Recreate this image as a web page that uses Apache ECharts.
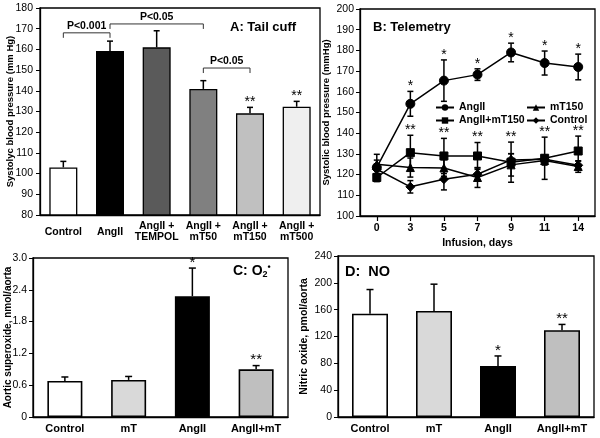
<!DOCTYPE html>
<html><head><meta charset="utf-8">
<script src="https://cdn.jsdelivr.net/npm/echarts@6/dist/echarts.min.js"></script>
<style>html,body{margin:0;padding:0;background:#fff}#c{width:600px;height:438px}</style>
</head><body><div id="c"></div>
<script>
// ---------- Panel A: Tail cuff ----------
const catsA = ['Control','AngII','AngII +\nTEMPOL','AngII +\nmT50','AngII +\nmT150','AngII +\nmT500'];
const valsA = [103,159.2,161,140.9,129.1,132.3];
const errA = [2.9,4.8,8,4,2.9,2.6];
const colorsA = ['#ffffff','#000000','#5a5a5a','#808080','#c0c0c0','#efefef'];
const starsA = ['','','','','**','**'];
const bracketFromA = [0,1,3];
const bracketToA = [1,3,4];
const bracketYA = [168,172.3,151];
const bracketTextA = ['P<0.001','P<0.05','P<0.05'];

// ---------- Panel B: Telemetry ----------
const daysB = ['0','3','5','7','9','11','14'];
const angII = [123.5,154.2,165.4,168.3,179,173.9,172];
const angIIErr = [6.3,6,10,2.8,4.5,5.8,6.2];
const angIImT = [118.6,130.6,129,129,126,127.9,131.4];
const angIImTErr = [2,8.4,8.5,6.5,9.7,10.2,7.2];
const mT150 = [125,123.4,123.2,118.6,124.7,126.8,123.9];
const mT150Err = [2,4.6,4,4.8,5.4,2.2,2.8];
const control = [122.6,114.1,117.8,120.2,127.1,127.4,124.5];
const controlErr = [2.5,3,5.2,3,3,2,2];
const starsAngII = ['','*','*','*','*','*','*'];
const starsAngIImT = ['','**','**','**','**','**','**'];

// ---------- Panels C & D ----------
const catsCD = ['Control','mT','AngII','AngII+mT'];
const colorsCD = ['#ffffff','#d9d9d9','#000000','#bfbfbf'];
const valsC = [0.68,0.70,2.28,0.90];
const errC = [0.075,0.065,0.53,0.07];
const starsC = ['','','*','**'];
const valsD = [154,158,76,129.5];
const errD = [36,40,15,8.5];
const starsD = ['','','*','**'];

const FF = "'Liberation Sans', Arial, sans-serif";

function barData(vals, colors, bw){
  return vals.map((v,i)=>({value:v, itemStyle:{color:colors[i], borderColor:'#000', borderWidth:bw}}));
}
function errSeries(gi, vals, errs, capW, both){
  return {
    type:'custom', xAxisIndex:gi, yAxisIndex:gi, z:5, silent:true,
    data: vals.map((v,i)=>[i, v, errs[i]]),
    encode:{x:0, y:1},
    renderItem:function(params, api){
      const i = api.value(0), v = api.value(1), e = api.value(2);
      const top = api.coord([i, v+e]);
      const bot = api.coord([i, both ? v-e : v]);
      const st = {stroke:'#000', lineWidth:1.5};
      const ch = [
        {type:'line', shape:{x1:top[0],y1:bot[1],x2:top[0],y2:top[1]}, style:st},
        {type:'line', shape:{x1:top[0]-capW/2,y1:top[1],x2:top[0]+capW/2,y2:top[1]}, style:st}
      ];
      if (both) ch.push({type:'line', shape:{x1:bot[0]-capW/2,y1:bot[1],x2:bot[0]+capW/2,y2:bot[1]}, style:st});
      return {type:'group', children:ch};
    }
  };
}
function starSeries(gi, vals, errs, stars, fs, dy){
  return {
    type:'custom', xAxisIndex:gi, yAxisIndex:gi, z:6, silent:true,
    data: vals.map((v,i)=>[i, v+errs[i]]),
    encode:{x:0, y:1},
    renderItem:function(params, api){
      const p = api.coord([api.value(0), api.value(1)]);
      return {type:'text', x:p[0], y:p[1]+dy,
        style:{text:stars[params.dataIndex], fontSize:fs, fontFamily:FF, fill:'#000', align:'center', verticalAlign:'bottom'}};
    }
  };
}
function bracketSeries(){
  return {
    type:'custom', xAxisIndex:0, yAxisIndex:0, z:6, silent:true,
    data: bracketYA.map((y,i)=>[bracketFromA[i], y, bracketToA[i]]),
    encode:{x:0, y:1},
    renderItem:function(params, api){
      const a = api.coord([api.value(0), api.value(1)]);
      const b = api.coord([api.value(2), api.value(1)]);
      return {type:'group', children:[
        {type:'polyline', shape:{points:[[a[0],a[1]+5],[a[0],a[1]],[b[0],b[1]],[b[0],b[1]+5]]}, style:{stroke:'#333', lineWidth:1, fill:null}},
        {type:'text', x:(a[0]+b[0])/2, y:a[1]-1, style:{text:bracketTextA[params.dataIndex], fontSize:10.5, fontWeight:'bold', fontFamily:FF, fill:'#000', align:'center', verticalAlign:'bottom'}}
      ]};
    }
  };
}

const axLine = {show:true, lineStyle:{color:'#000', width:1.3}};
const tickLbl = {color:'#000', fontSize:10.5, fontFamily:FF};
const catLbl = {color:'#000', fontSize:10.5, fontWeight:'bold', fontFamily:FF};
const nameStyle = {color:'#000', fontSize:10.5, fontWeight:'bold', fontFamily:FF};
const nameStyleSm = {color:'#000', fontSize:9.5, fontWeight:'bold', fontFamily:FF};
const gridBox = {show:true, borderColor:'#000', borderWidth:1.3, backgroundColor:'transparent'};
const legText = {fontSize:10.5, fontWeight:'bold', fontFamily:FF, color:'#000'};

const lineBase = (name, data, symbol, size) => ({
  name, type:'line', xAxisIndex:1, yAxisIndex:1, data, symbol, symbolSize:size,
  lineStyle:{color:'#000', width:1.5}, itemStyle:{color:'#000', borderColor:'#000'}, z:4
});

const option = {
  animation:false,
  backgroundColor:'#fff',
  title:[
    {text:'A: Tail cuff', left:230, top:21, padding:0, textStyle:{fontSize:13, fontWeight:'bold', fontFamily:FF, color:'#000'}},
    {text:'B: Telemetry', left:373, top:21, padding:0, textStyle:{fontSize:13, fontWeight:'bold', fontFamily:FF, color:'#000'}},
    {text:'{a|C: O}{b|2}{c|•}', left:233, top:263, padding:0, textStyle:{rich:{
      a:{fontSize:14, fontWeight:'bold', fontFamily:FF, color:'#000'},
      b:{fontSize:9, fontWeight:'bold', fontFamily:FF, color:'#000', padding:[7,0,0,0]},
      c:{fontSize:9, fontWeight:'bold', fontFamily:FF, color:'#000', padding:[0,0,8,0]}}}},
    {text:'D:  NO', left:345, top:264, padding:0, textStyle:{fontSize:14.5, fontWeight:'bold', fontFamily:FF, color:'#000'}}
  ],
  legend:[
    {left:435, top:102, padding:0, orient:'vertical', itemGap:2, itemWidth:18, itemHeight:8, data:['AngII','AngII+mT150'], textStyle:legText},
    {left:526, top:102, padding:0, orient:'vertical', itemGap:2, itemWidth:18, itemHeight:8, data:['mT150','Control'], textStyle:legText}
  ],
  grid:[
    Object.assign({left:40, top:8, width:280, height:207}, gridBox),
    Object.assign({left:360, top:9, width:235, height:207}, gridBox),
    Object.assign({left:33, top:258, width:255, height:159}, gridBox),
    Object.assign({left:338, top:256, width:256, height:161}, gridBox)
  ],
  xAxis:[
    {type:'category', gridIndex:0, data:catsA, axisLine:axLine, axisTick:{show:false},
     axisLabel:Object.assign({margin:17, verticalAlign:'middle', lineHeight:11, interval:0}, catLbl)},
    {type:'category', gridIndex:1, data:daysB, axisLine:axLine,
     axisTick:{show:true, alignWithLabel:true, length:5, lineStyle:{color:'#000', width:1.2}},
     axisLabel:Object.assign({margin:7}, catLbl),
     name:'Infusion, days', nameLocation:'middle', nameGap:22, nameMoveOverlap:false, nameTextStyle:nameStyle},
    {type:'category', gridIndex:2, data:catsCD, axisLine:axLine, axisTick:{show:false},
     axisLabel:Object.assign({margin:6, interval:0}, catLbl, {fontSize:11})},
    {type:'category', gridIndex:3, data:catsCD, axisLine:axLine, axisTick:{show:false},
     axisLabel:Object.assign({margin:6, interval:0}, catLbl, {fontSize:11})}
  ],
  yAxis:[
    {type:'value', gridIndex:0, min:80, max:180, interval:10, axisLine:axLine,
     axisTick:{show:true, length:4, lineStyle:{color:'#000'}}, splitLine:{show:false},
     axisLabel:Object.assign({margin:7}, tickLbl),
     name:'Systolyc blood pressure (mm Hg)', nameLocation:'middle', nameGap:25, nameMoveOverlap:false, nameTextStyle:nameStyleSm},
    {type:'value', gridIndex:1, min:100, max:200, interval:10, axisLine:axLine,
     axisTick:{show:true, length:4, lineStyle:{color:'#000'}}, splitLine:{show:false},
     axisLabel:Object.assign({margin:6}, tickLbl),
     name:'Systolic blood pressure (mmHg)', nameLocation:'middle', nameGap:29, nameMoveOverlap:false, nameTextStyle:nameStyleSm},
    {type:'value', gridIndex:2, min:0, max:3.0, interval:0.6, axisLine:axLine,
     axisTick:{show:true, length:4, lineStyle:{color:'#000'}}, splitLine:{show:false},
     axisLabel:Object.assign({margin:6, formatter:v=> v===0 ? '0' : v.toFixed(1)}, tickLbl),
     name:'Aortic superoxide, nmol/aorta', nameLocation:'middle', nameGap:20, nameMoveOverlap:false, nameTextStyle:Object.assign({}, nameStyle, {fontSize:10})},
    {type:'value', gridIndex:3, min:0, max:240, interval:40, axisLine:axLine,
     axisTick:{show:true, length:4, lineStyle:{color:'#000'}}, splitLine:{show:false},
     axisLabel:Object.assign({margin:6}, tickLbl),
     name:'Nitric oxide, pmol/aorta', nameLocation:'middle', nameGap:28, nameMoveOverlap:false, nameTextStyle:nameStyle}
  ],
  series:[
    {type:'bar', xAxisIndex:0, yAxisIndex:0, barWidth:28, data:barData(valsA, colorsA, 1.3), z:2},
    errSeries(0, valsA, errA, 6, false),
    starSeries(0, valsA, errA, starsA, 14, 2),
    bracketSeries(),

    lineBase('AngII', angII, 'circle', 9),
    lineBase('AngII+mT150', angIImT, 'rect', 8),
    lineBase('mT150', mT150, 'triangle', 8),
    lineBase('Control', control, 'diamond', 9),
    errSeries(1, angII, angIIErr, 6, true),
    errSeries(1, angIImT, angIImTErr, 6, true),
    errSeries(1, mT150, mT150Err, 6, true),
    errSeries(1, control, controlErr, 6, true),
    starSeries(1, angII, angIIErr, starsAngII, 14, 2),
    starSeries(1, angIImT, angIImTErr, starsAngIImT, 14, 2),

    {type:'bar', xAxisIndex:2, yAxisIndex:2, barWidth:35, data:barData(valsC, colorsCD, 1.6), z:2},
    errSeries(2, valsC, errC, 7, false),
    starSeries(2, valsC, errC, starsC, 15, 2),

    {type:'bar', xAxisIndex:3, yAxisIndex:3, barWidth:36, data:barData(valsD, colorsCD, 1.6), z:2},
    errSeries(3, valsD, errD, 7, false),
    starSeries(3, valsD, errD, starsD, 15, 2)
  ]
};
const chart = echarts.init(document.getElementById('c'), null, {renderer:'canvas'});
chart.setOption(option);
</script>
</body></html>
